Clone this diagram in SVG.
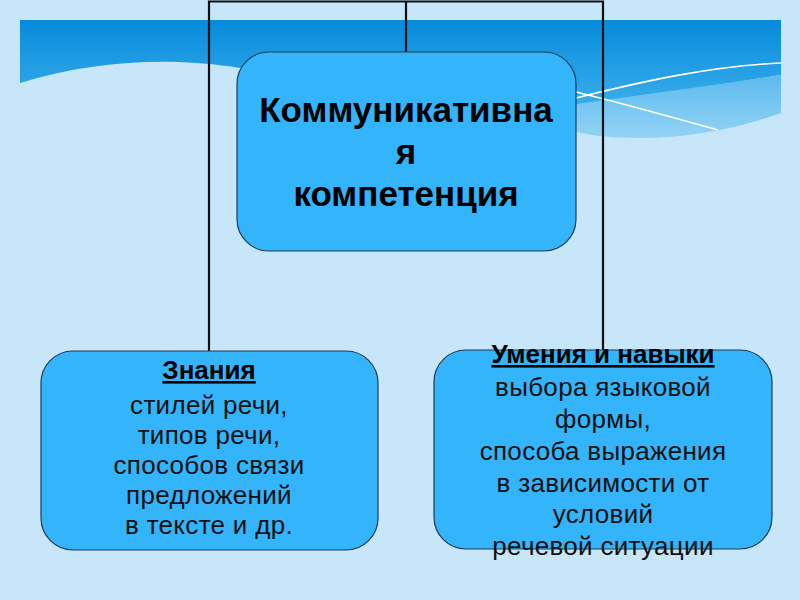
<svg xmlns="http://www.w3.org/2000/svg" width="800" height="600" viewBox="0 0 800 600">
  <defs>
    <linearGradient id="bandGrad" x1="0" y1="0" x2="0" y2="1">
      <stop offset="0" stop-color="#078bdc"/>
      <stop offset="1" stop-color="#3aaeea"/>
    </linearGradient>
    <linearGradient id="waveGrad" x1="0" y1="0" x2="0" y2="1">
      <stop offset="0" stop-color="#5cbaee"/>
      <stop offset="1" stop-color="#93d3f5"/>
    </linearGradient>
    <style>
      .box { fill: #33b4fb; stroke: #1c3d55; stroke-width: 1.2; }
      .conn { fill: none; stroke: #111111; stroke-width: 2.2; }
      .title { font-family: "Liberation Sans", Arial, sans-serif; font-weight: bold; font-size: 35px; fill: #000; text-anchor: middle; }
      .head { font-family: "Liberation Sans", Arial, sans-serif; font-weight: bold; font-size: 26px; fill: #000; text-anchor: middle; text-decoration: underline; }
      .body { font-family: "Liberation Sans", Arial, sans-serif; font-size: 26px; fill: #111; text-anchor: middle; letter-spacing: 0.3px; }
      .wline { fill: none; stroke: #ffffff; stroke-width: 1.6; }
    </style>
  </defs>

  <!-- background -->
  <rect x="0" y="0" width="800" height="600" fill="#c8e6f9"/>
  <g id="band">
    <path d="M20,20 H781 V75 C720,84 650,98 576,108 L240,68 C180,58 100,58 20,83 Z" fill="url(#bandGrad)"/>
    <path d="M576,104 C650,94 720,84 781,75 V113 C740,128 690,138 640,138 C610,138 590,135 576,132 Z" fill="url(#waveGrad)"/>
    <path class="wline" d="M576,98 C640,82 710,66 781,63"/>
    <path class="wline" d="M576,92 C625,104 675,118 718,130"/>
  </g>

  <g id="connectors">
    <path class="conn" d="M209,351 V1.5 H603 V350"/>
    <path class="conn" d="M406,1.5 V52"/>
  </g>

  <g id="node-center">
    <rect class="box" x="237" y="52" width="339" height="199" rx="32" ry="32"/>
    <text class="title" x="406" y="122">Коммуникативна</text>
    <text class="title" x="406" y="164">я</text>
    <text class="title" x="406" y="206">компетенция</text>
  </g>

  <g id="node-knowledge">
    <rect class="box" x="41" y="351" width="337" height="199" rx="32" ry="32"/>
    <text class="head" x="209" y="379">Знания</text>
    <text class="body" x="209" y="414">стилей речи,</text>
    <text class="body" x="209" y="444">типов речи,</text>
    <text class="body" x="209" y="474">способов связи</text>
    <text class="body" x="209" y="504">предложений</text>
    <text class="body" x="209" y="534">в тексте и др.</text>
  </g>

  <g id="node-skills">
    <rect class="box" x="434" y="350" width="338" height="199" rx="32" ry="32"/>
    <text class="head" x="603" y="363">Умения и навыки</text>
    <text class="body" x="603" y="396">выбора языковой</text>
    <text class="body" x="603" y="428">формы,</text>
    <text class="body" x="603" y="460">способа выражения</text>
    <text class="body" x="603" y="492">в зависимости от</text>
    <text class="body" x="603" y="523">условий</text>
    <text class="body" x="603" y="555">речевой ситуации</text>
  </g>
</svg>
